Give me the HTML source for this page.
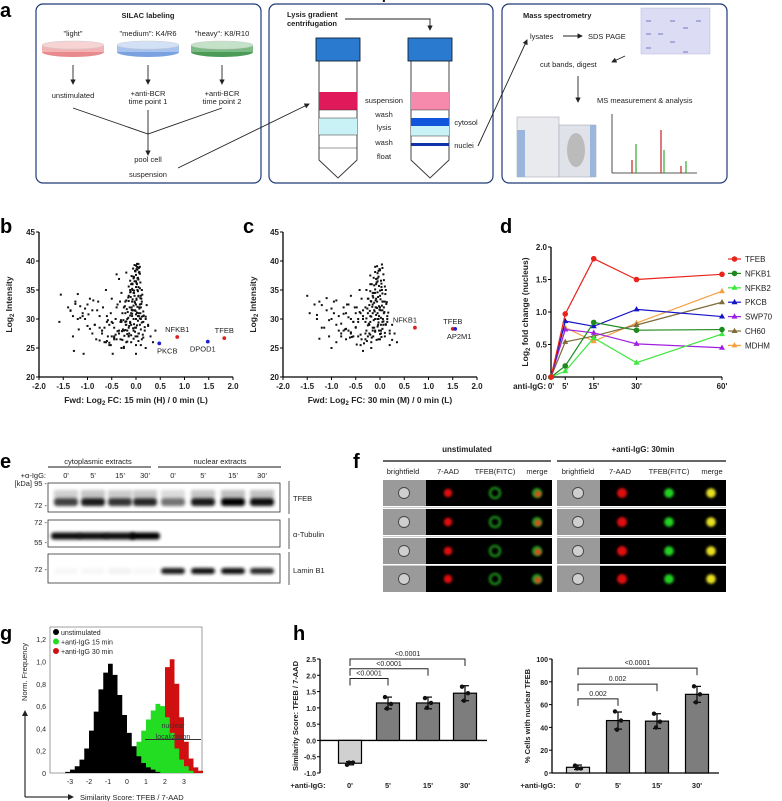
<!DOCTYPE html>
<html><head><meta charset="utf-8">
<style>
html,body{margin:0;padding:0;background:#fff;}
svg{display:block;font-family:"Liberation Sans",Arial,sans-serif;}
</style></head>
<body>
<svg id="fig" width="782" height="801" viewBox="0 0 782 801" xmlns="http://www.w3.org/2000/svg">
<defs>
<filter id="blur1" x="-20%" y="-50%" width="140%" height="200%"><feGaussianBlur stdDeviation="1.6"/></filter>
<filter id="blur2" x="-50%" y="-50%" width="200%" height="200%"><feGaussianBlur stdDeviation="1.3"/></filter>
<marker id="arr" markerWidth="6" markerHeight="6" refX="5" refY="3" orient="auto"><path d="M0,0 L6,3 L0,6 z" fill="#222"/></marker>
</defs>

<g>
<text x="0" y="17" font-size="20" font-weight="bold">a</text>
<rect x="36" y="4" width="225" height="179" rx="7" fill="#fff" stroke="#1f3a78" stroke-width="1.2"/>
<rect x="269" y="4" width="224" height="179" rx="7" fill="#fff" stroke="#1f3a78" stroke-width="1.2"/>
<rect x="502" y="4" width="225" height="179" rx="7" fill="#fff" stroke="#1f3a78" stroke-width="1.2"/>
<g font-size="7.5" fill="#222" text-anchor="middle">
<text x="148" y="18" font-weight="bold">SILAC labeling</text>
<text x="73" y="36">"light"</text>
<text x="148" y="36">"medium": K4/R6</text>
<text x="222" y="36">"heavy": K8/R10</text>
<text x="73" y="98">unstimulated</text>
<text x="148" y="96">+anti-BCR</text>
<text x="148" y="104">time point 1</text>
<text x="222" y="96">+anti-BCR</text>
<text x="222" y="104">time point 2</text>
<text x="148" y="162">pool cell</text>
<text x="148" y="177">suspension</text>
</g>
<g>
<ellipse cx="73" cy="52" rx="31" ry="5" fill="#e88a8e"/><rect x="42" y="45" width="62" height="7" fill="#f2b3b5"/><ellipse cx="73" cy="45" rx="31" ry="4" fill="#f8d3d4" stroke="#ccc" stroke-width="0.5"/>
<ellipse cx="148" cy="52" rx="31" ry="5" fill="#7aa2e0"/><rect x="117" y="45" width="62" height="7" fill="#a8c4ee"/><ellipse cx="148" cy="45" rx="31" ry="4" fill="#d3e1f7" stroke="#ccc" stroke-width="0.5"/>
<ellipse cx="222" cy="52" rx="31" ry="5" fill="#4c9a58"/><rect x="191" y="45" width="62" height="7" fill="#7dbb86"/><ellipse cx="222" cy="45" rx="31" ry="4" fill="#c4e2c8" stroke="#ccc" stroke-width="0.5"/>
</g>
<g stroke="#222" stroke-width="0.9" fill="none">
<line x1="73" y1="65" x2="73" y2="84" marker-end="url(#arr)"/>
<line x1="148" y1="65" x2="148" y2="84" marker-end="url(#arr)"/>
<line x1="222" y1="65" x2="222" y2="84" marker-end="url(#arr)"/>
<polyline points="73,108 148,134 222,108"/>
<line x1="148" y1="110" x2="148" y2="155" marker-end="url(#arr)"/>
<line x1="178" y1="168" x2="309" y2="104" marker-end="url(#arr)"/>
</g>
<g font-size="7.5" fill="#222">
<text x="287" y="17" font-weight="bold">Lysis gradient</text>
<text x="287" y="26" font-weight="bold">centrifugation</text>
</g>
<polyline points="345,19 430,19 430,30" fill="none" stroke="#222" stroke-width="0.9" marker-end="url(#arr)"/>
<g>
<path d="M319,60 L357,60 L357,160 L338,178 L319,160 Z" fill="#fff" stroke="#333" stroke-width="0.9"/>
<rect x="319" y="92" width="38" height="18" fill="#e0195a"/>
<rect x="319" y="118" width="38" height="17" fill="#c8f2f5"/>
<line x1="319" y1="110" x2="357" y2="110" stroke="#333" stroke-width="0.6"/>
<line x1="319" y1="118" x2="357" y2="118" stroke="#333" stroke-width="0.6"/>
<line x1="319" y1="135" x2="357" y2="135" stroke="#333" stroke-width="0.6"/>
<line x1="319" y1="148" x2="357" y2="148" stroke="#333" stroke-width="0.6"/>
<rect x="316" y="38" width="44" height="23" fill="#2a7bd0" stroke="#123" stroke-width="0.9"/>
</g>
<g>
<path d="M411,60 L449,60 L449,160 L430,178 L411,160 Z" fill="#fff" stroke="#333" stroke-width="0.9"/>
<rect x="411" y="92" width="38" height="18" fill="#f58aac"/>
<rect x="411" y="118" width="38" height="8" fill="#1155dd"/>
<rect x="411" y="126" width="38" height="10" fill="#c8f2f5"/>
<rect x="411" y="143" width="38" height="3" fill="#1133aa"/>
<line x1="411" y1="110" x2="449" y2="110" stroke="#333" stroke-width="0.6"/>
<line x1="411" y1="136" x2="449" y2="136" stroke="#333" stroke-width="0.6"/>
<rect x="408" y="38" width="44" height="23" fill="#2a7bd0" stroke="#123" stroke-width="0.9"/>
</g>
<g font-size="7.5" fill="#222" text-anchor="middle">
<text x="384" y="103">suspension</text>
<text x="384" y="117">wash</text>
<text x="384" y="130">lysis</text>
<text x="384" y="145">wash</text>
<text x="384" y="159">float</text>
<text x="466" y="125">cytosol</text>
<text x="464" y="148">nuclei</text>
</g>
<line x1="478" y1="146" x2="527" y2="40" stroke="#222" stroke-width="0.9" marker-end="url(#arr)"/>
<g font-size="7.5" fill="#222">
<text x="523" y="18" font-weight="bold">Mass spectrometry</text>
<text x="530" y="39">lysates</text>
<text x="588" y="39">SDS PAGE</text>
<text x="540" y="67">cut bands, digest</text>
<text x="597" y="103">MS measurement &amp; analysis</text>
</g>
<g stroke="#222" stroke-width="0.9" fill="none">
<line x1="563" y1="36" x2="582" y2="36" marker-end="url(#arr)"/>
<line x1="625" y1="56" x2="612" y2="62" marker-end="url(#arr)"/>
<line x1="578" y1="76" x2="578" y2="102" marker-end="url(#arr)"/>
</g>
<g>
<rect x="641" y="8" width="69" height="46" fill="#dcdcf5" stroke="#b8b8e0" stroke-width="0.5"/>
<g stroke="#7777bb" stroke-width="1">
<line x1="646" y1="21" x2="651" y2="21"/><line x1="670" y1="21" x2="675" y2="21"/><line x1="696" y1="21" x2="701" y2="21"/>
<line x1="683" y1="28" x2="688" y2="28"/><line x1="646" y1="34" x2="651" y2="34"/><line x1="658" y1="34" x2="663" y2="34"/>
<line x1="670" y1="42" x2="675" y2="42"/><line x1="646" y1="48" x2="651" y2="48"/><line x1="683" y1="52" x2="688" y2="52"/>
</g></g>
<g>
<rect x="517" y="117" width="42" height="60" fill="#e8eaee" stroke="#aab" stroke-width="0.6"/>
<rect x="517" y="130" width="8" height="47" fill="#9ab6dc"/>
<rect x="559" y="125" width="37" height="52" fill="#dfe2e8" stroke="#aab" stroke-width="0.6"/>
<rect x="590" y="125" width="6" height="52" fill="#9ab6dc"/>
<ellipse cx="576" cy="150" rx="9" ry="17" fill="#bbb"/>
</g>
<g>
<line x1="612" y1="114" x2="612" y2="173" stroke="#222" stroke-width="0.8"/>
<line x1="612" y1="173" x2="697" y2="173" stroke="#222" stroke-width="0.8"/>
<g stroke-width="1.2"><line x1="632" y1="173" x2="632" y2="160" stroke="#c22"/><line x1="636" y1="173" x2="636" y2="144" stroke="#3a3"/><line x1="661" y1="173" x2="661" y2="130" stroke="#c22"/><line x1="664" y1="173" x2="664" y2="150" stroke="#3a3"/><line x1="681" y1="173" x2="681" y2="166" stroke="#c22"/><line x1="686" y1="173" x2="686" y2="161" stroke="#3a3"/></g>
</g>
</g>

<g font-size="20" font-weight="bold" fill="#000">
<text x="0" y="233">b</text>
<text x="243" y="233">c</text>
<text x="500" y="233">d</text>
<text x="0" y="468">e</text>
<text x="353" y="468">f</text>
<text x="0" y="640">g</text>
<text x="293" y="640">h</text>
</g>
<g id="dyn"></g>
</svg>

<script>
// ---------- data: panel b ----------
const bCloudX = [-1.55,-1.58,-1.4,-1.35,-1.3,-1.28,-1.25,-1.2,-1.15,-1.1,-1.05,-1.0,-1.08,-0.95,-0.9,-0.85,-0.82,-0.78,-0.75,-0.7,-0.68,-0.62,-0.6,-0.58,-0.55,-0.52,-0.5,-0.48,-0.45,-0.42,-0.4,-0.38,-0.35,-0.32,-0.3,-0.28,-0.25,-0.22,-0.2,-0.18,-0.15,-0.12,-0.1,-0.08,-0.05,-0.03,0,0.02,0.03,0.05,0.06,0.08,0.1,0.12,0.15,0.18,0.2,0.25,0.3,0.35,0.4,-0.2,0.02,0.08,-0.1,-0.05,0.05,-0.15,0.1,-0.25,0,0.05,-0.1,-0.05,0.1,-0.3,-0.2,0,0.05,-0.15,-0.35,-0.45,-0.1,0.1,-0.25,0,-0.6,-0.65,-0.75,-0.9,-1.0,-1.2,0,-0.05,0,0.12,-0.08,-0.02,0.04,-0.12,0.07,-0.18,-0.04,0.01,0.09,-0.07,0.03,-0.22,-0.14,0.06,-0.01,-0.09,0.11,-0.3,-0.4,-0.5,-0.55,-0.7,-1.1,-1.3,-0.8,-0.45,0.15,0.2,-0.02,0.03,-0.06];
const bCloudY = [34.2,29.5,32,31.5,30.5,24.5,33,34.3,32.2,31,30,28.8,24,33.5,31.5,29,26.5,33,30.5,28,32,35,29.5,27,25.5,31,33.5,24,28.5,30,26.5,32.5,27.5,29.5,25,31,28,33,26,30,27,35,29,31.5,28,33,30,36,27,34,38,29,32,26.5,30.5,28,25,29,27,26,28,38,39.5,39,36,37,35.5,34,34,32,32.5,31,31,30,30,29.5,29,28.5,27.5,28.5,28,27,26,25.5,25,24,30.5,26,28.5,27.5,32.5,30,25.5,34.5,36.5,33,33,31.5,30.5,29.5,32,28,34.5,33.5,31,35,37,29.5,27.5,30.5,27,32,33.5,34.5,32,29.5,29,28,30.5,27,31.5,26.5,29.5,30,28.5,35,31.5,29.8,28.2];
const bCoreX = [-0.31,-0.27,-0.22,-0.18,-0.14,-0.1,-0.06,-0.02,0.02,0.06,0.1,0.14,0.18,-0.29,-0.24,-0.2,-0.16,-0.12,-0.08,-0.04,0,0.04,0.08,0.12,0.16,-0.26,-0.21,-0.17,-0.13,-0.09,-0.05,-0.01,0.03,0.07,0.11,0.15,-0.23,-0.19,-0.15,-0.11,-0.07,-0.03,0.01,0.05,0.09,0.13,-0.2,-0.16,-0.12,-0.08,-0.04,0,0.04,0.08,0.12,-0.15,-0.11,-0.07,-0.03,0.01,0.05,0.09,-0.12,-0.08,-0.04,0,0.04,0.08,-0.09,-0.05,-0.01,0.03,0.07,-0.06,-0.02,0.02,0.06,-0.03,0.01,0.05,0.0,0.04,-0.35,-0.4,-0.5,-0.6,-0.7,-0.45,-0.55,-0.65,-0.38,-0.48,-0.58,0.2,0.25,-0.32,-0.42,-0.52,-0.62,-0.75,-0.25,-0.15,-0.05,0.05,0.15,-0.28,-0.18,-0.08,0.02,0.12,-0.22,-0.12,-0.02,0.08,-0.33,0.22,-0.85,-0.95,-1.05,-1.15,-1.25,-1.35,-0.88,-0.98,-1.18];
const bCoreY = [28.1,27.4,28.8,27.2,28.4,27.8,28.9,27.5,28.2,27.3,28.6,27.9,27.1,29.6,30.2,29.3,30.5,29.1,30.8,29.7,30.1,29.4,30.6,29.8,29,31.2,32,31.6,32.3,31.4,32.1,31.8,32.6,31.3,32.2,31.7,33.1,33.8,33.4,34,33.3,33.9,33.6,34.2,33.2,33.7,34.6,35.2,34.9,35.5,34.8,35.3,35,35.6,34.7,36,36.5,36.2,36.8,36.3,36.6,36.1,37.2,37.6,37.1,37.8,37.4,37.3,38.2,38.5,38.1,38.7,38.3,39,38.8,39.3,38.6,39.5,39.2,38.9,36.9,37.7,27,26.2,27.5,26.8,25.9,28.5,27.9,29.3,29.8,30.4,28.8,26.5,27.3,25.5,26,26.3,25.2,27.1,26.6,26.2,26.8,26.4,26.1,30.9,31.1,30.4,31,30.6,32.8,32.5,33,32.4,29,28.3,31.8,30.2,32.6,31.4,33.2,30.8,28.2,33.6,29.3];
const bHitNames = ["NFKB1","TFEB","PKCB","DPOD1"];
const bHitX = [0.85,1.82,0.48,1.48];
const bHitY = [26.9,26.7,25.8,26.1];
const bHitColor = ["red","red","blue","blue"];
// ---------- data: panel c ----------
const cCloudX = [-1.5,-1.45,-1.35,-1.3,-1.25,-1.2,-1.1,-1.05,-1.0,-0.95,-0.9,-0.85,-0.8,-0.75,-0.7,-0.65,-0.6,-0.55,-0.5,-0.45,-0.42,-0.4,-0.35,-0.3,-0.28,-0.25,-0.22,-0.2,-0.18,-0.15,-0.12,-0.1,-0.08,-0.05,-0.03,0,0.02,0.05,0.08,0.1,0.12,0.15,0.2,0.25,0.3,0.35,-0.1,-0.05,0,0.03,-0.15,-0.2,0.05,-0.3,-0.25,-0.08,0.1,-0.12,-0.02,0.07,-0.18,-0.35,-0.4,-0.5,-0.6,-0.7,-0.8,-0.9,-1.0,-0.2,0,-0.1,0.05,-0.05,0.02,-0.15,-0.22,-0.06,0.04,-0.3,-0.45,-0.55,-0.65,-0.75,0.15,0.2,-0.12,-0.02,-0.08,0.0,-0.25,-0.35,-0.18,0.08,-0.04,-0.1,-0.15,0.12,-0.28,-0.48,-0.85,-1.15,-0.05,0.01,-0.09,-0.14,-0.2,0.06,-0.03,-0.38,-0.6,-0.72];
const cCloudY = [34,31,32.5,30,33,28.5,31.5,27,25,33,29,30.5,27.5,32,26.5,28,34,29.5,31,27,35,25.5,30,32,28,33.5,29,36,26,31,34.5,28,32,37,30,38.5,29,33,31,27,35,30,28,29,27.5,26,39,36.5,34,35.5,32.5,30.5,31.5,29.5,27,33.5,33,28.5,30.5,29,25,24.5,31,28.5,30,31,27,26,30,37.5,32,30,29.5,31,27.5,34,27.5,33,35,26.5,29.5,27,32.5,28,30.5,25.5,31.5,28,36,26.5,31,30.5,33,32,29,34.5,28,29,35,32,28,28.5,30,31.5,32,27,29.5,30,26.5,33.5,27.5];
const cCoreX = [-0.3,-0.25,-0.2,-0.15,-0.1,-0.05,0,0.05,0.1,0.15,-0.28,-0.23,-0.18,-0.13,-0.08,-0.03,0.02,0.07,0.12,0.17,-0.26,-0.21,-0.16,-0.11,-0.06,-0.01,0.04,0.09,0.14,-0.24,-0.19,-0.14,-0.09,-0.04,0.01,0.06,0.11,-0.2,-0.15,-0.1,-0.05,0,0.05,0.1,-0.17,-0.12,-0.07,-0.02,0.03,0.08,-0.13,-0.08,-0.03,0.02,0.07,-0.1,-0.05,0,0.05,-0.06,-0.01,0.04,-0.03,0.02,-0.4,-0.5,-0.6,-0.7,-0.8,-0.45,-0.55,-0.65,-0.75,-0.35,-0.42,-0.52,-0.62,0.2,0.25,-0.33,-0.38,-0.48,-0.58,-0.68,-0.9,-1.0,-1.1,-1.2,-1.3,-0.95,-1.05,-1.25,-0.27,-0.17,-0.07,0.03,0.13,-0.22,-0.12,-0.02,0.08];
const cCoreY = [28.2,27.5,28.9,27.3,28.5,27.8,28.7,27.4,28.3,27.6,29.5,30.1,29.2,30.4,29.8,30.7,29.4,30.2,29.6,29.1,31.1,31.8,31.4,32.1,31.3,31.9,31.6,32.3,31.2,32.9,33.5,33.1,33.7,33.2,33.8,33.4,33,34.3,34.8,34.5,35.1,34.6,34.9,34.4,35.6,36,35.8,36.3,35.7,36.1,36.7,37.1,36.9,37.3,36.6,37.7,38.1,37.9,38.4,38.8,39.1,38.6,39.4,38.3,28,27.3,28.6,27.7,28.3,29.2,30,29.5,30.3,30.9,31.5,31.2,32,26.8,27.5,26.4,25.8,26.5,25.6,26.9,32.5,33.2,31.8,33.6,32.4,30.7,31,29.8,26.6,26.2,26.8,26.4,26.9,32.6,32.4,32.8,32.2];
const cHitNames = ["NFKB1","TFEB","AP2M1"];
const cHitX = [0.72,1.5,1.55];
const cHitY = [28.5,28.3,28.3];
const cHitColor = ["red","red","blue"];
const scatterXTicks = [-2.0,-1.5,-1.0,-0.5,0.0,0.5,1.0,1.5,2.0];
const scatterYTicks = [20,25,30,35,40,45];
// ---------- data: panel d ----------
const dTimes = [0,5,15,30,60];
const dTimeLabels = ["0'","5'","15'","30'","60'"];
const dSeriesNames = ["TFEB","NFKB1","NFKB2","PKCB","SWP70","CH60","MDHM"];
const dSeriesColors = ["#e8241c","#1e8a1e","#3ee63e","#1515c8","#a020e0","#7d6b3a","#f5a040"];
const dSeriesMarker = ["circle","circle","tri","tri","tri","tri","tri"];
const dTFEB  = [0,0.97,1.82,1.50,1.58];
const dNFKB1 = [0,0.17,0.84,0.72,0.73];
const dNFKB2 = [0,0.09,0.60,0.22,0.66];
const dPKCB  = [0,0.86,0.78,1.04,0.93];
const dSWP70 = [0,0.73,0.68,0.51,0.45];
const dCH60  = [0,0.54,0.63,0.80,1.15];
const dMDHM  = [0,0.76,0.55,0.83,1.32];
const dYTicks = [0.0,0.5,1.0,1.5,2.0];
// ---------- data: panel e ----------
const eLanes = ["0'","5'","15'","30'","0'","5'","15'","30'"];
const eTFEB = [0.75,0.9,0.8,0.85,0.55,0.9,1.0,0.95];
const eTubulin = [0.95,0.95,0.95,1.0,0,0,0,0];
const eLamin = [0.03,0.03,0.05,0.03,0.9,0.95,0.95,0.85];
// ---------- data: panel g ----------
const gBinStart = -3.5, gBinWidth = 0.25;
const gBlack = [0,0.01,0.03,0.06,0.12,0.22,0.38,0.55,0.75,0.9,0.98,0.88,0.7,0.52,0.36,0.24,0.15,0.09,0.05,0.03,0.01,0,0,0,0,0,0,0,0,0];
const gGreen = [0,0,0,0,0,0,0,0,0,0,0,0.01,0.03,0.06,0.07,0.15,0.28,0.38,0.48,0.56,0.62,0.6,0.5,0.36,0.22,0.12,0.06,0.02,0,0];
const gRed   = [0,0,0,0,0,0,0,0,0,0,0,0,0,0,0,0,0,0.01,0.05,0.12,0.25,0.55,0.95,1.02,0.8,0.5,0.28,0.13,0.05,0.02];
const gXTicks = [-3,-2,-1,0,1,2,3];
const gYTicks = [0,0.2,0.4,0.6,0.8,1.0,1.2];
const gYTickLabels = ["0","0,2","0,4","0,6","0,8","1,0","1,2"];
// ---------- data: panel h ----------
const hCats = ["0'","5'","15'","30'"];
const hSimMean = [-0.70,1.15,1.15,1.45];
const hSimSD = [0.05,0.18,0.18,0.23];
const hSimPts0 = [-0.75,-0.68,-0.68];
const hSimPts1 = [1.33,1.12,0.98];
const hSimPts2 = [1.30,1.15,1.00];
const hSimPts3 = [1.65,1.45,1.22];
const hSimYTicks = [-1.0,-0.5,0.0,0.5,1.0,1.5,2.0,2.5];
const hSimBrackets = [[0,1,1.9,"<0.0001"],[0,2,2.2,"<0.0001"],[0,3,2.5,"<0.0001"]];
const hPctMean = [5,46,45.5,69];
const hPctSD = [2,7.5,6.5,7];
const hPctPts0 = [6.5,4,4];
const hPctPts1 = [54,46,38];
const hPctPts2 = [52,45,40];
const hPctPts3 = [76,69,62];
const hPctYTicks = [0,20,40,60,80,100];
const hPctBrackets = [[0,1,65,"0.002"],[0,2,78,"0.002"],[0,3,92,"<0.0001"]];

const NS="http://www.w3.org/2000/svg";
const root=document.getElementById('dyn');
function mk(tag,attrs,parent){const e=document.createElementNS(NS,tag);for(const k in attrs)e.setAttribute(k,attrs[k]);(parent||root).appendChild(e);return e;}
function txt(s,x,y,size,anchor,parent,extra){const t=mk('text',Object.assign({x:x,y:y,'font-size':size,'text-anchor':anchor||'middle',fill:'#222'},extra||{}),parent);t.textContent=s;return t;}

function scatter(name,x0,cx,cy,hx,hy,hn,hc,xTitle){
  const g=mk('g',{});
  
  
  const X=v=>x0+(v+2)*48.5, Y=v=>377-(v-20)*5.8;
  const pts=mk('g',{fill:'#111'},g);
  
  
  for(let i=0;i<cx.length;i++){const c=mk('rect',{x:X(cx[i])-1,y:Y(cy[i])-1,width:2,height:2},pts);
    
    }
  mk('line',{x1:x0,y1:Y(20),x2:x0,y2:Y(45),stroke:'#000','stroke-width':1.3},g);
  mk('line',{x1:x0,y1:Y(20),x2:X(2),y2:Y(20),stroke:'#000','stroke-width':1.3},g);
  scatterYTicks.forEach(v=>{mk('line',{x1:x0-3,y1:Y(v),x2:x0,y2:Y(v),stroke:'#000','stroke-width':1},g);
    const t=txt(String(v),x0-4,Y(v)+3,8,'end',g,{'font-weight':'bold'});
    
    });
  scatterXTicks.forEach(v=>{mk('line',{x1:X(v),y1:Y(20),x2:X(v),y2:Y(20)+3,stroke:'#000','stroke-width':1},g);
    const t=txt(v.toFixed(1),X(v),Y(20)+12,8,'middle',g,{'font-weight':'bold'});
    
    });
  for(let i=0;i<hx.length;i++){
    const c=mk('circle',{cx:X(hx[i]),cy:Y(hy[i]),r:1.9,fill:hc[i]=='red'?'#e02020':'#2020d0'},g);
    
    
    let lx=X(hx[i]), ly=Y(hy[i])-5;
    if(hc[i]=='blue'){ly=Y(hy[i])+10; if(hn[i]=='DPOD1')lx-=5; if(hn[i]=='PKCB')lx+=8; if(hn[i]=='AP2M1')lx+=4;}
    if(hn[i]=='NFKB1'&&name=='panel-c'){lx-=10;}
    const t=txt(hn[i],lx,ly,7.5,'middle',g);
    
    
  }
  const yt=txt('',x0-27,Y(32.5),8.5,'middle',g,{'font-weight':'bold',transform:`rotate(-90 ${x0-27} ${Y(32.5)})`});
  yt.innerHTML='Log<tspan font-size="6" dy="2">2</tspan><tspan dy="-2"> Intensity</tspan>';
  
  
  const xt=txt('',X(0),403,8.5,'middle',g,{'font-weight':'bold'});
  xt.innerHTML='Fwd: Log<tspan font-size="6" dy="2">2</tspan><tspan dy="-2"> FC: '+xTitle+'</tspan>';
  
  
}
scatter('panel-b',39,bCloudX.concat(bCoreX),bCloudY.concat(bCoreY),bHitX,bHitY,bHitNames,bHitColor,'15 min (H) / 0 min (L)');
scatter('panel-c',283,cCloudX.concat(cCoreX),cCloudY.concat(cCoreY),cHitX,cHitY,cHitNames,cHitColor,'30 min (M) / 0 min (L)');

(function(){
  const g=mk('g',{});
  
  
  const X=t=>551+t*2.85, Y=v=>377-v*65;
  mk('line',{x1:X(0),y1:Y(0),x2:X(0),y2:Y(2),stroke:'#000','stroke-width':1.3},g);
  mk('line',{x1:X(0),y1:Y(0),x2:X(60),y2:Y(0),stroke:'#000','stroke-width':1.3},g);
  dYTicks.forEach(v=>{mk('line',{x1:X(0)-3,y1:Y(v),x2:X(0),y2:Y(v),stroke:'#000'},g);
    const t=txt(v.toFixed(1),X(0)-4,Y(v)+3,8,'end',g,{'font-weight':'bold'});
    
    });
  dTimes.forEach((t0,i)=>{mk('line',{x1:X(t0),y1:Y(0),x2:X(t0),y2:Y(0)+3,stroke:'#000'},g);
    const t=txt(dTimeLabels[i],X(t0),389,8,'middle',g,{'font-weight':'bold'});
    
    });
  const al=txt('anti-IgG:',546,389,8,'end',g,{'font-weight':'bold'});
  
  
  const yt=txt('',528,Y(1),8.5,'middle',g,{'font-weight':'bold',transform:`rotate(-90 528 ${Y(1)})`});
  yt.innerHTML='Log<tspan font-size="6" dy="2">2</tspan><tspan dy="-2"> fold change (nucleus)</tspan>';
  
  
  const series=[dTFEB,dNFKB1,dNFKB2,dPKCB,dSWP70,dCH60,dMDHM];
  function marker(type,x,y,col,p){
    if(type=='circle') return mk('circle',{cx:x,cy:y,r:2.8,fill:col},p);
    return mk('path',{d:`M${x},${y-3.3} L${x+3},${y+2} L${x-3},${y+2} Z`,fill:col},p);
  }
  for(let s=series.length-1;s>=0;s--){
    const sg=mk('g',{},g);
    
    
    const pts=series[s].map((v,i)=>X(dTimes[i])+','+Y(v)).join(' ');
    mk('polyline',{points:pts,fill:'none',stroke:dSeriesColors[s],'stroke-width':1.2},sg);
    series[s].forEach((v,i)=>{const m=marker(dSeriesMarker[s],X(dTimes[i]),Y(v),dSeriesColors[s],sg);
      
      });
  }
  dSeriesNames.forEach((n,i)=>{
    const lg=mk('g',{},g);
    
    
    const y=259+i*14.4;
    mk('line',{x1:728,y1:y,x2:741,y2:y,stroke:dSeriesColors[i],'stroke-width':1.2},lg);
    marker(dSeriesMarker[i],734.5,y,dSeriesColors[i],lg);
    txt(n,745,y+3,8,'start',lg);
  });
})();

(function(){
  const g=mk('g',{});
  
  
  const laneX=[66,93,120,145,173,203,233,262];
  const h1=txt('cytoplasmic extracts',98,464,7.5,'middle',g);
  const h2=txt('nuclear extracts',220,464,7.5,'middle',g);
  mk('line',{x1:48,y1:467,x2:151,y2:467,stroke:'#444','stroke-width':1.2},g);
  mk('line',{x1:158,y1:467,x2:281,y2:467,stroke:'#444','stroke-width':1.2},g);
  txt('+α-IgG:',46,478,7.5,'end',g);
  eLanes.forEach((l,i)=>{const t=txt(l,laneX[i],478,7.5,'middle',g);});
  const blots=[[483,512,eTFEB,'TFEB',498,8],[520,547,eTubulin,'α-Tubulin',534,7],[554,583,eLamin,'Lamin B1',570,6]];
  blots.forEach((b,bi)=>{
    const bg=mk('g',{},g);
    
    
    mk('rect',{x:48,y:b[0],width:232,height:b[1]-b[0],fill:'#fff',stroke:'#333','stroke-width':0.8},bg);
    const bandY=bi==0?502:(bi==1?536:571);
    b[2].forEach((v,i)=>{ if(v<=0) return;
      const w = bi==1?30:24;
      const r=mk('rect',{x:laneX[i]-w/2,y:bandY-b[5]/2,width:w,height:b[5],rx:3,fill:'#000','fill-opacity':v,filter:'url(#blur1)'},bg);
      
      
      if(bi==0){const s=mk('rect',{x:laneX[i]-w/2,y:490,width:w,height:8,fill:'#000','fill-opacity':v*0.25,filter:'url(#blur1)'},bg);
        
        }
    });
    mk('line',{x1:289,y1:b[0]-2,x2:289,y2:b[1]+2,stroke:'#333','stroke-width':0.8},bg);
    const l=txt(b[3],293,b[4]+3,7.5,'start',bg);
    
    
  });
  [['[kDa] 95',486],['72',508],['72',525],['55',545],['72',572]].forEach(k=>{
    const t=txt(k[0]+' -',47,k[1],7.5,'end',g);
    
    });
})();

(function(){
  const g=mk('g',{});
  
  
  txt('unstimulated',467,452,8,'middle',g,{'font-weight':'bold'});
  txt('+anti-IgG: 30min',643,452,8,'middle',g,{'font-weight':'bold'});
  mk('line',{x1:383,y1:461,x2:551,y2:461,stroke:'#333','stroke-width':1.5},g);
  mk('line',{x1:557,y1:461,x2:726,y2:461,stroke:'#333','stroke-width':1.5},g);
  const heads=['brightfield','7-AAD','TFEB(FITC)','merge'];
  const hx1=[403,448,495,537], hx2=[578,620,669,712];
  heads.forEach((h,i)=>{txt(h,hx1[i],474,7.5,'middle',g);txt(h,hx2[i],474,7.5,'middle',g);});
  const rows=[480,509,538,566], rh=26;
  [[383,false],[557,true]].forEach(p=>{
    const x0=p[0], st=p[1];
    rows.forEach((ry,ri)=>{
      const cg=mk('g',{},g);
      
      
      mk('rect',{x:x0,y:ry,width:43,height:rh,fill:'#9a9a9a'},cg);
      mk('circle',{cx:x0+21,cy:ry+13,r:5.5,fill:'#cfcfcf',stroke:'#444','stroke-width':0.9},cg);
      mk('rect',{x:x0+43,y:ry,width:126,height:rh,fill:'#000'},cg);
      mk('circle',{cx:x0+65,cy:ry+13,r:st?5:4.2,fill:'#e01010',filter:'url(#blur2)'},cg);
      if(st){
        mk('circle',{cx:x0+112,cy:ry+13,r:4.8,fill:'#22d022',filter:'url(#blur2)'},cg);
        mk('circle',{cx:x0+154,cy:ry+13,r:4.8,fill:'#e8e020',filter:'url(#blur2)'},cg);
      } else {
        mk('circle',{cx:x0+112,cy:ry+13,r:5,fill:'none',stroke:'#20b020','stroke-width':2,filter:'url(#blur2)'},cg);
        mk('circle',{cx:x0+154,cy:ry+13,r:5,fill:'#20a020',filter:'url(#blur2)'},cg);
        mk('circle',{cx:x0+155,cy:ry+14,r:3.3,fill:'#d85020',filter:'url(#blur2)'},cg);
      }
      if(ri<3) mk('line',{x1:x0,y1:ry+rh+1.5,x2:x0+169,y2:ry+rh+1.5,stroke:'#ccc','stroke-width':1},g);
    });
  });
})();

(function(){
  const g=mk('g',{});
  
  
  const X=v=>127+v*19, Y=v=>773-v*111.5;
  mk('rect',{x:50,y:627,width:152,height:146,fill:'#fff',stroke:'#888','stroke-width':0.8},g);
  function hist(arr,col,name){
    let d=`M${X(gBinStart)},${Y(0)}`;
    arr.forEach((v,i)=>{const xa=X(gBinStart+i*gBinWidth), xb=X(gBinStart+(i+1)*gBinWidth);d+=` L${xa},${Y(v)} L${xb},${Y(v)}`;});
    d+=` L${X(gBinStart+arr.length*gBinWidth)},${Y(0)} Z`;
    const p=mk('path',{d:d,fill:col},g);
    
    
  }
  hist(gRed,'#d01010','histogram-30min');
  hist(gGreen,'#22dd22','histogram-15min');
  hist(gBlack,'#000','histogram-unstimulated');
  gYTicks.forEach((v,i)=>{const t=txt(gYTickLabels[i],46,Y(v)+3,7,'end',g);
    
    });
  gXTicks.forEach(v=>{const t=txt(String(v),X(v),784,7,'middle',g);
    
    });
  const nl=mk('line',{x1:145,y1:Y(0.3),x2:201,y2:Y(0.3),stroke:'#333','stroke-width':1},g);
  
  
  txt('nuclear',173,728,7,'middle',g,{fill:'#333'});
  txt('localization',173,739,7,'middle',g,{fill:'#333'});
  const leg=[['unstimulated','#000'],['+anti-IgG  15 min','#22dd22'],['+anti-IgG 30 min','#d01010']];
  leg.forEach((l,i)=>{const lg=mk('g',{},g);
    
    
    mk('circle',{cx:56,cy:632+i*9.5,r:3,fill:l[1]},lg);txt(l[0],61,635+i*9.5,7,'start',lg);});
  mk('line',{x1:25,y1:797,x2:25,y2:711,stroke:'#000','stroke-width':1,'marker-end':'url(#arr)'},g);
  mk('line',{x1:25,y1:797,x2:73,y2:797,stroke:'#000','stroke-width':1,'marker-end':'url(#arr)'},g);
  const yt=txt('Norm. Frequency',27,672,7.5,'middle',g,{transform:'rotate(-90 27 672)'});
  
  
  const xt=txt('Similarity Score: TFEB / 7-AAD',80,800,7.5,'start',g);
  
  
})();

function barChart(name,axX,cx,yTop,yBot,vMin,vMax,ticks,fmt,means,sds,ptsArr,brackets,yTitle,prefixX){
  const g=mk('g',{});
  
  
  const Y=v=>yBot-(v-vMin)/(vMax-vMin)*(yBot-yTop);
  mk('line',{x1:axX,y1:Y(vMin),x2:axX,y2:Y(vMax),stroke:'#000','stroke-width':1.3},g);
  mk('line',{x1:axX,y1:Y(0),x2:cx[3]+22,y2:Y(0),stroke:'#000','stroke-width':1.3},g);
  ticks.forEach(v=>{mk('line',{x1:axX-3,y1:Y(v),x2:axX,y2:Y(v),stroke:'#000'},g);
    const t=txt(fmt(v),axX-4,Y(v)+3,7,'end',g,{'font-weight':'bold'});
    
    });
  means.forEach((m,i)=>{
    const bg=mk('g',{},g);
    
    
    mk('rect',{x:cx[i]-11.5,y:Math.min(Y(m),Y(0)),width:23,height:Math.abs(Y(m)-Y(0)),fill:i==0?'#d0d0d0':'#7d7d7d',stroke:'#000','stroke-width':1.2},bg);
    mk('line',{x1:cx[i],y1:Y(m-sds[i]),x2:cx[i],y2:Y(m+sds[i]),stroke:'#000','stroke-width':1.2},bg);
    mk('line',{x1:cx[i]-4,y1:Y(m+sds[i]),x2:cx[i]+4,y2:Y(m+sds[i]),stroke:'#000','stroke-width':1.2},bg);
    mk('line',{x1:cx[i]-4,y1:Y(m-sds[i]),x2:cx[i]+4,y2:Y(m-sds[i]),stroke:'#000','stroke-width':1.2},bg);
    ptsArr[i].forEach((p,j)=>{const c=mk('circle',{cx:cx[i]+[-3,3,-1][j],cy:Y(p),r:2.2,fill:'#111'},bg);
      
      });
    const t=txt(hCats[i],cx[i],788,7.5,'middle',g,{'font-weight':'bold'});
    
    
  });
  brackets.forEach(b=>{const bg=mk('g',{},g);
    
    
    const y=Y(b[2]);
    mk('polyline',{points:`${cx[b[0]]},${y+7} ${cx[b[0]]},${y} ${cx[b[1]]},${y} ${cx[b[1]]},${y+7}`,fill:'none',stroke:'#222','stroke-width':1},bg);
    txt(b[3],(cx[b[0]]+cx[b[1]])/2,y-3,7,'middle',bg);});
  const p=txt('+anti-IgG:',prefixX,788,7.5,'middle',g,{'font-weight':'bold'});
  
  
  const yx=axX-22, yc=(yTop+yBot)/2;
  const yt=txt(yTitle,yx,yc,7.5,'middle',g,{'font-weight':'bold',transform:`rotate(-90 ${yx} ${yc})`});
  
  
}
barChart('panel-h-similarity',320,[350,388,428,465],659,773,-1.0,2.5,hSimYTicks,v=>v.toFixed(1),hSimMean,hSimSD,[hSimPts0,hSimPts1,hSimPts2,hSimPts3],hSimBrackets,'Similarity Score: TFEB / 7-AAD',308);
barChart('panel-h-percent',552,[578,618,657,697],659,773,0,100,hPctYTicks,v=>String(v),hPctMean,hPctSD,[hPctPts0,hPctPts1,hPctPts2,hPctPts3],hPctBrackets,'% Cells with nuclear TFEB',538);
</script>
</body></html>
